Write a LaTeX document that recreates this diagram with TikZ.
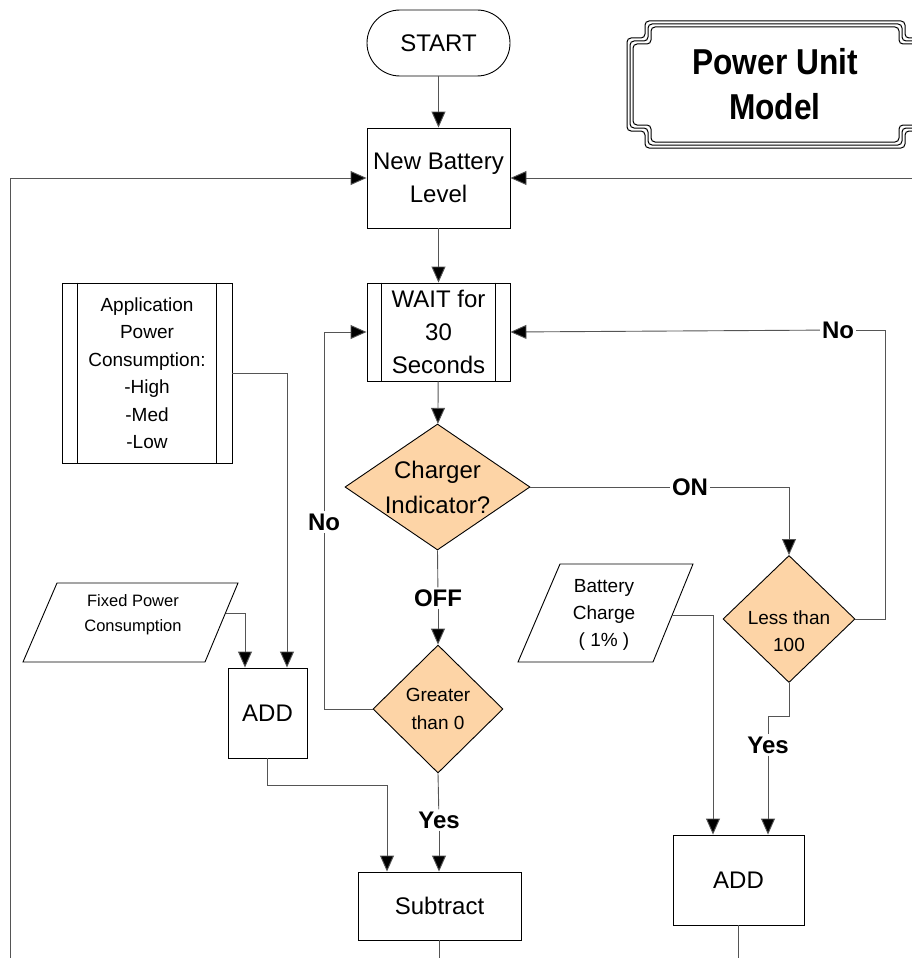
\documentclass[tikz,border=0pt]{standalone}
\usepackage{fontspec}
\setmainfont{Liberation Sans}
\newfontfamily\titlefont[FakeStretch=0.88]{Liberation Sans}
\usetikzlibrary{shapes.geometric,arrows.meta}
\definecolor{peach}{RGB}{253,212,166}
\definecolor{conncol}{RGB}{85,85,85}
\begin{document}
\begin{tikzpicture}[x=1pt,y=-1pt,
  shapebox/.style={draw=black, line width=0.9pt, fill=white, inner sep=0pt, align=center},
  bigtxt/.style={font=\fontsize{24}{33}\selectfont},
  midtxt/.style={font=\fontsize{19}{27.5}\selectfont},
  dec/.style={draw=black, line width=0.9pt, fill=peach, shape=diamond, inner sep=0pt},
  conn/.style={draw=conncol, line width=0.9pt},
  arr/.style={conn, -{Triangle[length=16pt,width=14pt,fill=black]}},
  lbl/.style={font=\fontsize{24}{24}\selectfont\bfseries, fill=white, inner sep=2pt},
  frame/.style={draw=black, line width=1pt, rounded corners=4pt}
]
\useasboundingbox (0,0) rectangle (911,958);

% Title frame
\foreach \d in {0,3,6}{
  \draw[frame] (645+\d,21+\d) -- (905-\d,21+\d) -- (905-\d,38+\d) -- (923-\d,38+\d)
    -- (923-\d,131-\d) -- (905-\d,131-\d) -- (905-\d,148-\d) -- (645+\d,148-\d)
    -- (645+\d,131-\d) -- (627+\d,131-\d) -- (627+\d,38+\d) -- (645+\d,38+\d) -- cycle;
}
\node[align=center, font=\titlefont\fontsize{36}{45}\selectfont\bfseries] (title) at (775,84) {Power Unit\\Model};

% Main nodes
\node[shapebox, bigtxt, minimum width=143, minimum height=66, rounded corners=33pt] (start) at (438.5,43) {START};
\node[shapebox, bigtxt, minimum width=143, minimum height=100] (nbl) at (438.5,178) {New Battery\\Level};
\node[shapebox, bigtxt, minimum width=143, minimum height=98] (wait) at (438.5,332) {WAIT for\\30\\Seconds};
\draw[black, line width=0.9pt] ([xshift=15pt]wait.north west) -- ([xshift=15pt]wait.south west);
\draw[black, line width=0.9pt] ([xshift=-15pt]wait.north east) -- ([xshift=-15pt]wait.south east);

\node[dec, minimum width=185, minimum height=126,
  label={[align=center, font=\fontsize{24}{35}\selectfont]center:Charger\\Indicator?}] (charger) at (437.5,487) {};
\node[dec, minimum width=130, minimum height=128,
  label={[align=center, font=\fontsize{19}{28}\selectfont]center:Greater\\than 0}] (greater) at (438,709) {};
\node[dec, minimum width=132, minimum height=127,
  label={[align=center, font=\fontsize{19}{27}\selectfont, yshift=-12pt]center:Less than\\100}] (less) at (789,619) {};

\node[shapebox, bigtxt, minimum width=163, minimum height=68] (sub) at (439.5,906) {Subtract};
\node[shapebox, bigtxt, minimum width=131, minimum height=90] (add2) at (738.5,880) {ADD};
\node[shapebox, bigtxt, minimum width=79, minimum height=90] (add1) at (267.5,713) {ADD};

\node[shapebox, midtxt, minimum width=170, minimum height=180] (app) at (147,373)
  {Application\\Power\\Consumption:\\-High\\-Med\\-Low};
\draw[black, line width=0.9pt] ([xshift=16pt]app.north west) -- ([xshift=16pt]app.south west);
\draw[black, line width=0.9pt] ([xshift=-16pt]app.north east) -- ([xshift=-16pt]app.south east);

% Parallelograms
\draw[black, line width=0.9pt] (57,583) -- (238,583) -- (205,662) -- (23,662) -- cycle;
\node[align=center, font=\fontsize{16.5}{25}\selectfont] (fixed) at (133,615) {Fixed Power\\Consumption};
\coordinate (fixR) at (225.5,613);
\draw[black, line width=0.9pt] (560,564) -- (693,564) -- (653,662) -- (518,662) -- cycle;
\node[align=center, font=\fontsize{19}{27}\selectfont] (batt) at (604,615) {Battery\\Charge\\( 1\% )};
\coordinate (battR) at (672,615);

% Labels
\node[lbl] (on) at (690,487) {ON};
\node[lbl] (off) at (438,598) {OFF};
\node[lbl] (yes1) at (439,820) {Yes};
\node[lbl] (yes2) at (768,745) {Yes};
\node[lbl] (nol) at (324,522) {No};
\node[lbl] (nor) at (838,330) {No};

% Free ends
\coordinate (lb) at (10,962);
\coordinate (rb) at (914,178);
\coordinate (subend) at (439.5,962);
\coordinate (add2end) at (738.5,962);

% Connectors
\draw[arr] (start) -- (nbl);
\draw[arr] (nbl) -- (wait);
\draw[arr] (wait) -- (charger);
\draw[arr] (lb) |- (nbl.west);
\draw[arr] (rb) -- (nbl.east);

\draw[conn] (charger.east) -- (on);
\draw[arr] (on) -| (less.north);
\draw[conn] (charger.south) -- (off);
\draw[arr] (off) -- (greater.north);
\draw[conn] (greater.south) -- (yes1);
\draw[arr] (yes1) -- (yes1 |- sub.north);
\draw[conn] (greater.west) -| (nol);
\draw[arr] (nol) |- (wait.west);
\draw[conn] (less.east) -- ++(30,0) |- (nor);
\draw[arr] (nor) -- (wait.east);
\draw[conn] (less.south) -- ++(0,33) -| (yes2);
\draw[arr] (yes2) -- (yes2 |- add2.north);
\draw[arr] (battR) -| ([xshift=-25.5pt]add2.north);
\draw[arr] (app.east) -| ([xshift=19.5pt]add1.north);
\draw[arr] (fixR) -| ([xshift=-22.5pt]add1.north);
\draw[arr] (add1.south) -- ++(0,27) -| ([xshift=-52.5pt]sub.north);
\draw[conn] (sub.south) -- (subend);
\draw[conn] (add2.south) -- (add2end);
\end{tikzpicture}
\end{document}
